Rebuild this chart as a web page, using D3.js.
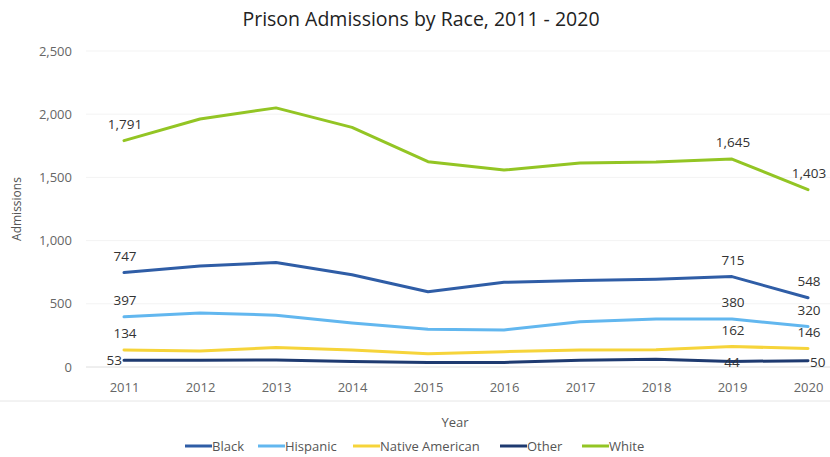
<!DOCTYPE html>
<html>
<head>
<meta charset="utf-8">
<script src="https://cdn.jsdelivr.net/npm/d3@7"></script>
<style>
  html, body { margin: 0; padding: 0; background: #fff; }
  svg { display: block; font-family: "Open Sans", "Noto Sans", sans-serif; }
</style>
</head>
<body>
<svg id="chart" width="830" height="457"></svg>
<script>
// Admissions per year, by race
const years = ["2011","2012","2013","2014","2015","2016","2017","2018","2019","2020"];
const black    = [747, 799, 826, 730, 596, 670, 684, 694, 715, 548];
const hispanic = [397, 427, 410, 348, 298, 293, 358, 380, 380, 320];
const nativeAmerican = [134, 127, 154, 134, 105, 121, 134, 137, 162, 146];
const other    = [53, 53, 55, 44, 36, 36, 54, 62, 44, 50];
const white    = [1791, 1962, 2050, 1896, 1624, 1558, 1614, 1622, 1645, 1403];
const seriesNames = ["Black", "Hispanic", "Native American", "Other", "White"];
const yTicks = [0, 500, 1000, 1500, 2000, 2500];
// Only the first and the last two points of each series carry a value label
const labelledIdx = [0, 8, 9];

const colors = {
  "Black": "#2f5da6",
  "Hispanic": "#62b7ef",
  "Native American": "#f6d43a",
  "Other": "#1e3a70",
  "White": "#93c524"
};
const valuesByName = {
  "Black": black, "Hispanic": hispanic, "Native American": nativeAmerican,
  "Other": other, "White": white
};

const svg = d3.select("#chart");
const x = d3.scalePoint().domain(years).range([124, 808]);
const y = d3.scaleLinear().domain([0, 2500]).range([367, 51]);
const fmt = d3.format(",");

// Title
svg.append("text")
  .attr("x", 421).attr("y", 26)
  .attr("text-anchor", "middle")
  .attr("font-size", 19.5).attr("font-weight", 400).attr("fill", "#222")
  .text("Prison Admissions by Race, 2011 - 2020");

// Faint gridlines
svg.append("g").selectAll("line")
  .data(yTicks.filter(t => t > 0))
  .join("line")
  .attr("x1", 86).attr("x2", 830)
  .attr("y1", d => y(d)).attr("y2", d => y(d))
  .attr("stroke", "#f3f3f3").attr("stroke-width", 1);

// Baseline and separator below the year labels
svg.append("line")
  .attr("x1", 86).attr("x2", 830).attr("y1", y(0)).attr("y2", y(0))
  .attr("stroke", "#dedede");
svg.append("line")
  .attr("x1", 0).attr("x2", 830).attr("y1", 401).attr("y2", 401)
  .attr("stroke", "#e6e6e6");

// Y axis
const yAxis = svg.append("g")
  .attr("transform", "translate(72,0)")
  .call(d3.axisLeft(y).tickValues(yTicks).tickFormat(fmt).tickSize(0).tickPadding(0));
yAxis.select(".domain").remove();
yAxis.selectAll("text").attr("font-size", 13).attr("fill", "#666")
  .attr("font-family", "\"Open Sans\", sans-serif");

// X axis
const xAxis = svg.append("g")
  .attr("transform", `translate(0,${y(0)})`)
  .call(d3.axisBottom(x).tickSize(0).tickPadding(16));
xAxis.select(".domain").remove();
xAxis.selectAll("text").attr("font-size", 13).attr("fill", "#666")
  .attr("font-family", "\"Open Sans\", sans-serif");

// Axis titles
svg.append("text")
  .attr("transform", "translate(21,209) rotate(-90)")
  .attr("text-anchor", "middle")
  .attr("font-size", 12).attr("fill", "#555")
  .text("Admissions");
svg.append("text")
  .attr("x", 455).attr("y", 427)
  .attr("text-anchor", "middle")
  .attr("font-size", 13).attr("fill", "#555")
  .text("Year");

// Lines
const line = d3.line()
  .x((d, i) => x(years[i]))
  .y(d => y(d));

const series = seriesNames.map(name => ({ name, values: valuesByName[name] }));

svg.append("g").selectAll("path")
  .data(series)
  .join("path")
  .attr("d", d => line(d.values))
  .attr("fill", "none")
  .attr("stroke", d => colors[d.name])
  .attr("stroke-width", 3)
  .attr("stroke-linejoin", "round")
  .attr("stroke-linecap", "round");

// Value labels
const labels = [];
series.forEach(s => {
  labelledIdx.forEach(i => {
    labels.push({ name: s.name, i, v: s.values[i] });
  });
});

function labelPos(d) {
  const px = x(years[d.i]);
  const py = y(d.v);
  if (d.name === "Other") {
    if (d.i === 0) return { x: px - 2, y: py + 5, anchor: "end" };
    if (d.i === 9) return { x: px + 2, y: py + 6, anchor: "start" };
    return { x: px, y: py + 6, anchor: "middle" };
  }
  return { x: px + 1, y: py - 12, anchor: "middle" };
}

svg.append("g").selectAll("text")
  .data(labels)
  .join("text")
  .each(function (d) {
    const p = labelPos(d);
    d3.select(this)
      .attr("x", p.x).attr("y", p.y)
      .attr("text-anchor", p.anchor);
  })
  .attr("font-size", 13.5).attr("fill", "#333")
  .text(d => fmt(d.v));

// Legend
const legendX = [185, 258, 353, 500, 582];
const legend = svg.append("g").selectAll("g")
  .data(seriesNames)
  .join("g")
  .attr("transform", (d, i) => `translate(${legendX[i]},446)`);
legend.append("line")
  .attr("x1", 0).attr("x2", 27).attr("y1", 0).attr("y2", 0)
  .attr("stroke", d => colors[d]).attr("stroke-width", 3);
legend.append("text")
  .attr("x", 27).attr("y", 5)
  .attr("font-size", 13).attr("fill", "#555")
  .text(d => d);
</script>
</body>
</html>
